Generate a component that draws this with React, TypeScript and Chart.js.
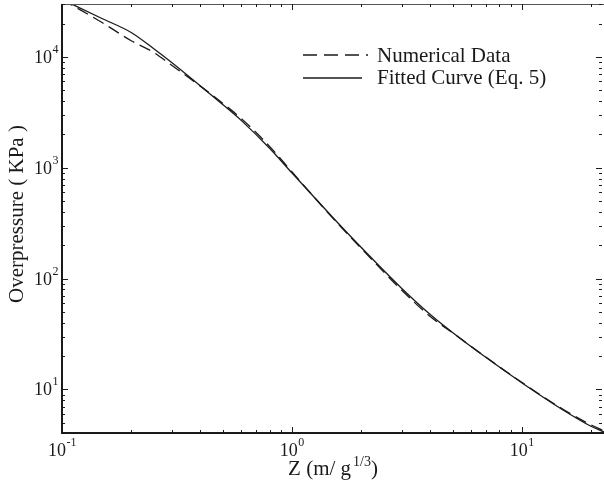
import React, { useEffect, useRef } from "react";
import { Chart, registerables } from "chart.js";

Chart.register(...registerables);

// ---- data ----
const zValues = [0.1, 0.15, 0.2, 0.25, 0.3, 0.4, 0.5, 0.6, 0.8, 1.0, 1.5, 2, 3, 4, 5, 7, 10, 15, 20, 23];
const numericalData = [33000, 20300, 14000, 11000, 8400, 5450, 3820, 2800, 1560, 920, 355, 188, 79, 45.5, 32.5, 19.5, 11.6, 6.7, 4.8, 4.2];
const fittedCurve = [33000, 22100, 16600, 11900, 8900, 5470, 3720, 2690, 1500, 900, 360, 192, 82, 47.5, 32.7, 19.4, 11.5, 6.6, 4.66, 4.1];

const xTickValues = [0.1, 1, 10];
const xTickExponents = ["-1", "0", "1"];
const yTickValues = [10, 100, 1000, 10000];
const yTickExponents = ["1", "2", "3", "4"];

const xMin = 0.1;
const xMax = 22.8;
const yMin = 4.05;
const yMax = 30000;

const seriesNames = ["Numerical Data", "Fitted Curve (Eq. 5)"];
const yTitle = "Overpressure ( KPa )";
const xTitleMain = "Z (m/ g";
const xTitleSup = "1/3";
const xTitleEnd = ")";

const FONT = '"Liberation Serif", "Times New Roman", serif';
const INK = "#1a1a1a";

function drawPow(ctx: CanvasRenderingContext2D, base: string, exp: string, x: number, y: number, align: "center" | "right") {
  ctx.font = `18px ${FONT}`;
  const wb = ctx.measureText(base).width;
  ctx.font = `12px ${FONT}`;
  const we = ctx.measureText(exp).width;
  const start = align === "center" ? x - (wb + we) / 2 : x - wb - we;
  ctx.textAlign = "left";
  ctx.textBaseline = "alphabetic";
  ctx.font = `18px ${FONT}`;
  ctx.fillText(base, start, y);
  ctx.font = `12px ${FONT}`;
  ctx.fillText(exp, start + wb + 0.5, y - 10);
}

const axesPlugin = {
  id: "customAxes",
  afterDraw(chart: any) {
    const { ctx, chartArea, scales } = chart;
    const { left, right, top, bottom } = chartArea;
    const xs = scales.x;
    const ys = scales.y;
    ctx.save();

    // top frame line (thin)
    ctx.strokeStyle = "#555";
    ctx.lineWidth = 1;
    ctx.beginPath();
    ctx.moveTo(left, top + 0.5);
    ctx.lineTo(right, top + 0.5);
    ctx.stroke();

    // ticks
    ctx.strokeStyle = INK;
    ctx.lineWidth = 1;
    ctx.beginPath();
    for (let d = -2; d <= 2; d++) {
      for (let m = 1; m <= 9; m++) {
        const v = m * Math.pow(10, d);
        if (v >= xMin && v <= xMax) {
          const px = Math.round(xs.getPixelForValue(v)) + 0.5;
          const len = m === 1 ? 6 : 3;
          ctx.moveTo(px, bottom);
          ctx.lineTo(px, bottom - len);
          ctx.moveTo(px, top);
          ctx.lineTo(px, top + len);
        }
      }
    }
    for (let d = 0; d <= 5; d++) {
      for (let m = 1; m <= 9; m++) {
        const v = m * Math.pow(10, d);
        if (v >= yMin && v <= yMax) {
          const py = Math.round(ys.getPixelForValue(v)) + 0.5;
          const len = m === 1 ? 6 : 3;
          ctx.moveTo(left, py);
          ctx.lineTo(left + len, py);
          ctx.moveTo(right - 2, py);
          ctx.lineTo(right - 2 - len, py);
        }
      }
    }
    ctx.stroke();

    // left & bottom axis lines (thick)
    ctx.strokeStyle = INK;
    ctx.lineWidth = 2;
    ctx.beginPath();
    ctx.moveTo(left, top);
    ctx.lineTo(left, bottom);
    ctx.lineTo(right, bottom);
    ctx.stroke();

    // tick labels
    ctx.fillStyle = INK;
    xTickValues.forEach((v, i) => {
      const px = xs.getPixelForValue(v);
      drawPow(ctx, "10", xTickExponents[i], px, bottom + 22.5, "center");
    });
    yTickValues.forEach((v, i) => {
      const py = ys.getPixelForValue(v);
      drawPow(ctx, "10", yTickExponents[i], left - 4, py + 6, "right");
    });

    // x title
    ctx.font = `21px ${FONT}`;
    const w1 = ctx.measureText(xTitleMain).width;
    const w3 = ctx.measureText(xTitleEnd).width;
    ctx.font = `14px ${FONT}`;
    const w2 = ctx.measureText(xTitleSup).width;
    const total = w1 + 2 + w2 + w3;
    const cx = (left + right) / 2;
    const sx = cx - total / 2;
    const tb = 475;
    ctx.textAlign = "left";
    ctx.font = `21px ${FONT}`;
    ctx.fillText(xTitleMain, sx, tb);
    ctx.font = `14px ${FONT}`;
    ctx.fillText(xTitleSup, sx + w1 + 2, tb - 9);
    ctx.font = `21px ${FONT}`;
    ctx.fillText(xTitleEnd, sx + w1 + 2 + w2, tb);

    // y title
    ctx.save();
    ctx.translate(23, 214);
    ctx.rotate(-Math.PI / 2);
    ctx.font = `21px ${FONT}`;
    ctx.textAlign = "center";
    ctx.fillText(yTitle, 0, 0);
    ctx.restore();

    // legend
    ctx.lineWidth = 1.3;
    ctx.strokeStyle = INK;
    ctx.beginPath();
    ctx.setLineDash([14, 7]);
    ctx.moveTo(303, 55);
    ctx.lineTo(368, 55);
    ctx.stroke();
    ctx.setLineDash([]);
    ctx.beginPath();
    ctx.moveTo(303, 78);
    ctx.lineTo(362, 78);
    ctx.stroke();
    ctx.font = `21px ${FONT}`;
    ctx.textAlign = "left";
    ctx.fillText(seriesNames[0], 377, 62);
    ctx.fillText(seriesNames[1], 377, 84);

    ctx.restore();
  },
};

export default function App() {
  const ref = useRef<HTMLCanvasElement | null>(null);
  useEffect(() => {
    if (!ref.current) return;
    const chart = new Chart(ref.current, {
      type: "line",
      data: {
        datasets: [
          {
            label: seriesNames[0],
            data: zValues.map((z, i) => ({ x: z, y: numericalData[i] })),
            borderColor: INK,
            borderWidth: 1.3,
            borderDash: [12, 6],
            pointRadius: 0,
            fill: false,
            cubicInterpolationMode: "monotone",
          },
          {
            label: seriesNames[1],
            data: zValues.map((z, i) => ({ x: z, y: fittedCurve[i] })),
            borderColor: INK,
            borderWidth: 1.3,
            pointRadius: 0,
            fill: false,
            cubicInterpolationMode: "monotone",
          },
        ],
      },
      options: {
        animation: false,
        responsive: false,
        devicePixelRatio: 1,
        layout: { padding: { top: 4, right: 0, bottom: 0, left: 0 } },
        plugins: { legend: { display: false }, tooltip: { enabled: false } },
        scales: {
          x: {
            type: "logarithmic",
            min: xMin,
            max: xMax,
            ticks: { display: false },
            grid: { display: false },
            border: { display: false },
            afterFit: (s: any) => {
              s.height = 54;
            },
          },
          y: {
            type: "logarithmic",
            min: yMin,
            max: yMax,
            ticks: { display: false },
            grid: { display: false },
            border: { display: false },
            afterFit: (s: any) => {
              s.width = 62;
            },
          },
        },
      },
      plugins: [axesPlugin],
    } as any);
    return () => chart.destroy();
  }, []);
  return (
    <div style={{ position: "fixed", left: 0, top: 0, width: 604, height: 487, background: "#fff" }}>
      <canvas ref={ref} width={604} height={487} style={{ display: "block" }} />
    </div>
  );
}
